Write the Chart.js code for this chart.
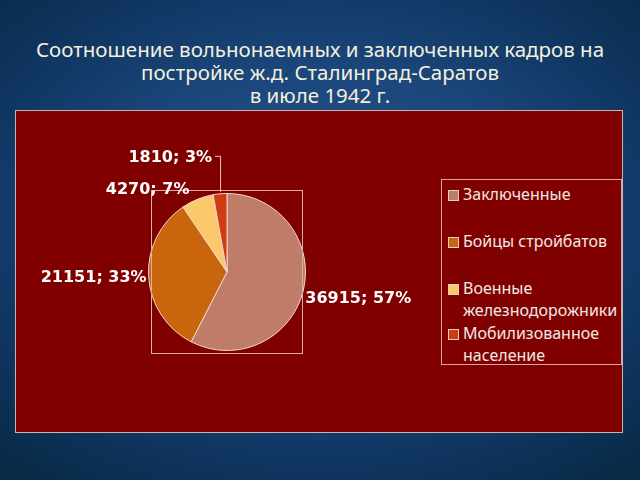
<!DOCTYPE html>
<html>
<head>
<meta charset="utf-8">
<script src="https://cdn.jsdelivr.net/npm/chart.js@4"></script>
<style>
  html, body { margin: 0; padding: 0; }
  body {
    width: 640px; height: 480px; overflow: hidden; position: relative;
    background: radial-gradient(ellipse 75% 70% at 50% 45%, #28578f 0%, #1b467b 45%, #0f3560 75%, #082a45 100%);
    font-family: "Noto Sans", sans-serif;
  }
  #title {
    position: absolute; left: 0; top: 38px; width: 640px; text-align: center;
    color: #f3f1dc; font-size: 20.5px; line-height: 23px;
  }
  #panel {
    position: absolute; left: 15px; top: 110px; width: 606px; height: 321px;
    background: #800000; border: 1px solid #c9b3b3;
  }
  #legend {
    position: absolute; left: 441px; top: 179px; width: 181px; height: 186px;
    border: 1px solid #d9a8a0; box-sizing: border-box;
  }
  .item { position: absolute; left: 6px; color: #f2e8e2; font-size: 16px; line-height: 22px; }
  .sw { position: absolute; left: 0; top: 7px; width: 9px; height: 9px; border: 1px solid #e8d0c8; }
  .tx { margin-left: 15px; white-space: nowrap; }
  canvas { position: absolute; left: 0; top: 0; }
</style>
</head>
<body>
<div id="title">Соотношение вольнонаемных и заключенных кадров на<br>постройке ж.д. Сталинград-Саратов<br>в июле 1942 г.</div>
<div id="panel"></div>
<div id="legend"></div>
<canvas id="c" width="640" height="480"></canvas>
<script>
const categories = ["Заключенные", "Бойцы стройбатов", "Военные железнодорожники", "Мобилизованное население"];
const legendLines = [["Заключенные"], ["Бойцы стройбатов"], ["Военные", "железнодорожники"], ["Мобилизованное", "население"]];
const values = [36915, 21151, 4270, 1810];
const percents = [57, 33, 7, 3];
const colors = ["#bf7c68", "#c9650c", "#fbc86c", "#d03b12"];

// legend (HTML, built from the arrays)
const legendTops = [3, 50, 97, 142];
const legend = document.getElementById("legend");
legendLines.forEach((lines, i) => {
  const d = document.createElement("div");
  d.className = "item";
  d.style.top = legendTops[i] + "px";
  d.innerHTML = '<div class="sw" style="background:' + colors[i] + '"></div>' +
    lines.map(l => '<div class="tx">' + l + '</div>').join("");
  legend.appendChild(d);
});

// label placement styles (relative to arc mid-point on outer radius)
const labelStyle = [
  { align: "left", dx: 2, dy: 8, leader: false },
  { align: "right", dx: -2, dy: 1, leader: false },
  { align: "right", dx: -8, dy: -9, leader: false },
  { align: "right", dx: -8, dy: -36, leader: true }
];

const pieLabels = {
  id: "pieLabels",
  afterDatasetsDraw(chart) {
    const ctx = chart.ctx;
    const meta = chart.getDatasetMeta(0);
    const a0 = meta.data[0];
    // frame around pie (plot area)
    ctx.save();
    ctx.strokeStyle = "#d9b0a8";
    ctx.lineWidth = 1;
    ctx.strokeRect(Math.round(a0.x - 76) + 0.5, Math.round(a0.y - 82) + 0.5, 151, 163);
    ctx.font = "bold 16px 'DejaVu Sans'";
    ctx.fillStyle = "#ffffff";
    ctx.textBaseline = "middle";
    meta.data.forEach((arc, i) => {
      const mid = (arc.startAngle + arc.endAngle) / 2;
      const ax = arc.x + Math.cos(mid) * arc.outerRadius;
      const ay = arc.y + Math.sin(mid) * arc.outerRadius;
      const s = labelStyle[i];
      const lx = ax + s.dx, ly = ay + s.dy;
      ctx.textAlign = s.align;
      ctx.fillText(values[i] + "; " + percents[i] + "%", lx, ly);
      if (s.leader) {
        ctx.beginPath();
        ctx.strokeStyle = "#e0c8c0";
        ctx.moveTo(lx + 3, ly - 1.5);
        ctx.lineTo(ax + 0.5, ly - 1.5);
        ctx.lineTo(ax + 0.5, ay - 2);
        ctx.stroke();
      }
    });
    ctx.restore();
  }
};

new Chart(document.getElementById("c"), {
  type: "pie",
  data: {
    labels: categories,
    datasets: [{
      data: values,
      backgroundColor: colors,
      borderColor: "#f0d8d0",
      borderWidth: 1
    }]
  },
  options: {
    responsive: false,
    animation: false,
    layout: { padding: { left: 148, right: 334, top: 193, bottom: 129 } },
    plugins: { legend: { display: false }, tooltip: { enabled: false } }
  },
  plugins: [pieLabels]
});
</script>
</body>
</html>
